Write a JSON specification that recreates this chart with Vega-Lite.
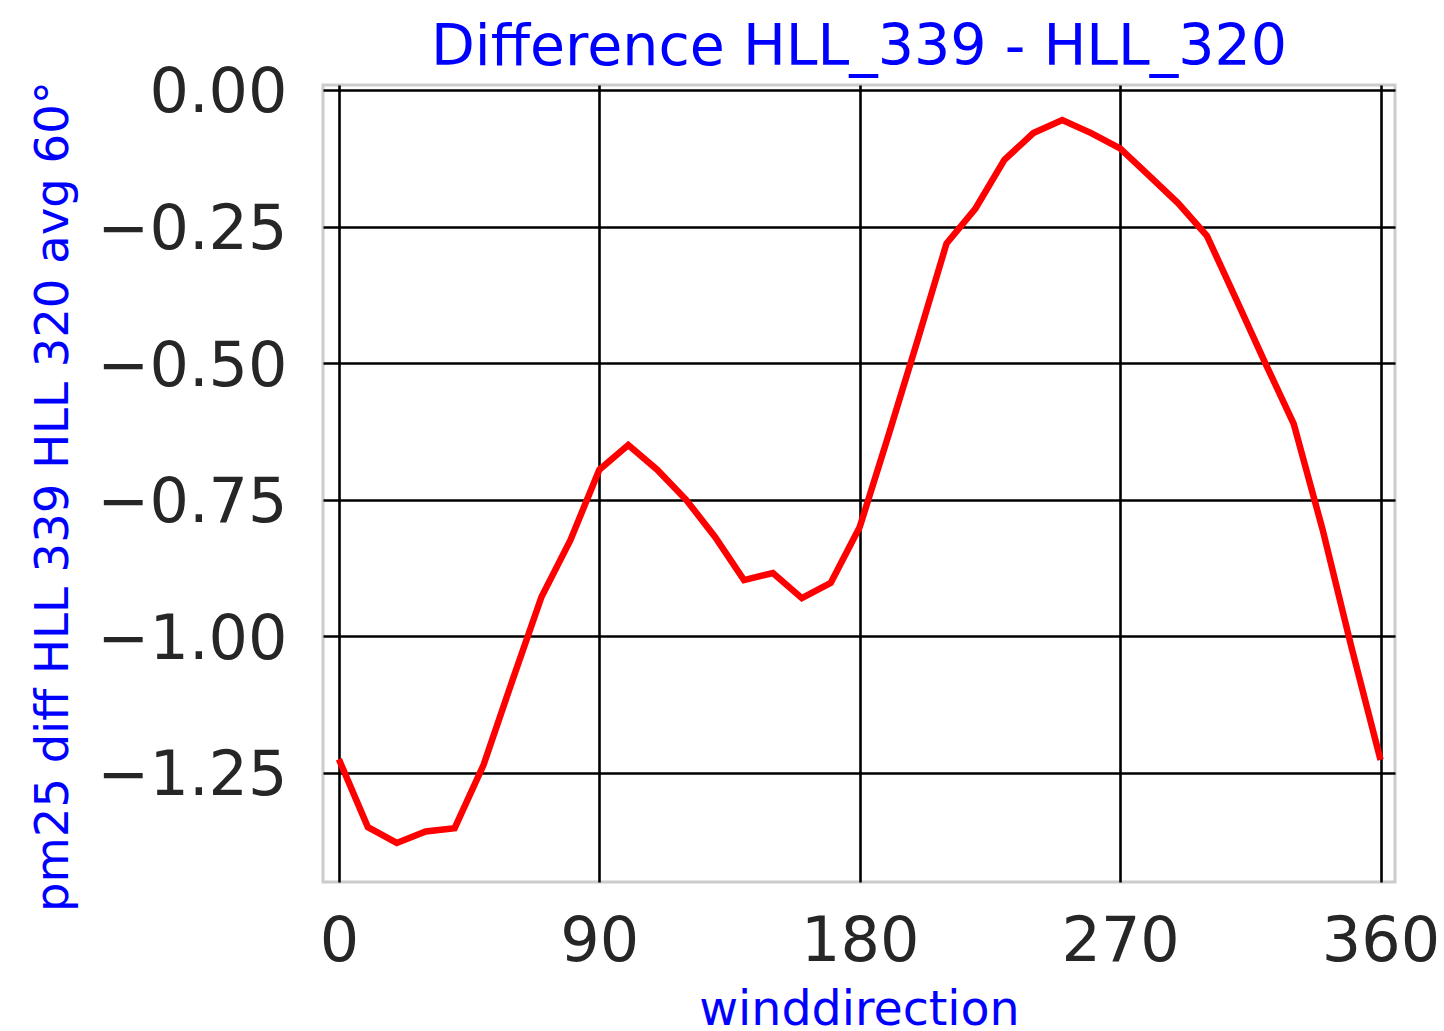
{
  "$schema": "https://vega.github.io/schema/vega-lite/v6.json",
  "autosize": {"type": "none"},
  "padding": {"left": 323, "top": 85, "right": 49, "bottom": 149},
  "width": 1072,
  "height": 797,
  "background": "white",
  "title": {
    "text": "Difference HLL_339 - HLL_320",
    "font": "DejaVu Sans",
    "fontSize": 57,
    "fontWeight": "normal",
    "color": "blue",
    "anchor": "middle",
    "frame": "group",
    "baseline": "alphabetic",
    "offset": -60
  },
  "config": {
    "view": {"stroke": "#cccccc", "strokeWidth": 3},
    "font": "DejaVu Sans"
  },
  "data": {
    "values": [
      {"winddirection": 0, "diff": -1.225},
      {"winddirection": 10, "diff": -1.349},
      {"winddirection": 20, "diff": -1.378},
      {"winddirection": 30, "diff": -1.357},
      {"winddirection": 40, "diff": -1.351},
      {"winddirection": 50, "diff": -1.235},
      {"winddirection": 60, "diff": -1.08},
      {"winddirection": 70, "diff": -0.928},
      {"winddirection": 80, "diff": -0.824},
      {"winddirection": 90, "diff": -0.695},
      {"winddirection": 100, "diff": -0.65},
      {"winddirection": 110, "diff": -0.695},
      {"winddirection": 120, "diff": -0.75},
      {"winddirection": 130, "diff": -0.818},
      {"winddirection": 140, "diff": -0.897},
      {"winddirection": 150, "diff": -0.884},
      {"winddirection": 160, "diff": -0.93},
      {"winddirection": 170, "diff": -0.902},
      {"winddirection": 180, "diff": -0.8},
      {"winddirection": 190, "diff": -0.631},
      {"winddirection": 200, "diff": -0.458},
      {"winddirection": 210, "diff": -0.281},
      {"winddirection": 220, "diff": -0.217},
      {"winddirection": 230, "diff": -0.128},
      {"winddirection": 240, "diff": -0.079},
      {"winddirection": 250, "diff": -0.055},
      {"winddirection": 260, "diff": -0.079},
      {"winddirection": 270, "diff": -0.107},
      {"winddirection": 280, "diff": -0.157},
      {"winddirection": 290, "diff": -0.207},
      {"winddirection": 300, "diff": -0.267},
      {"winddirection": 310, "diff": -0.382},
      {"winddirection": 320, "diff": -0.498},
      {"winddirection": 330, "diff": -0.611},
      {"winddirection": 340, "diff": -0.805},
      {"winddirection": 350, "diff": -1.021},
      {"winddirection": 360, "diff": -1.226}
    ]
  },
  "mark": {"type": "line", "color": "red", "strokeWidth": 6.5, "clip": true},
  "encoding": {
    "x": {
      "field": "winddirection",
      "type": "quantitative",
      "scale": {"domain": [-5.5, 365], "nice": false, "zero": false},
      "axis": {
        "title": "winddirection",
        "values": [0, 90, 180, 270, 360],
        "format": "d",
        "domain": false,
        "ticks": false,
        "tickSize": 0,
        "grid": true,
        "gridColor": "black",
        "gridWidth": 2.6,
        "gridOpacity": 1,
        "labelFont": "DejaVu Sans",
        "labelFontSize": 62,
        "labelColor": "#262626",
        "labelBaseline": "alphabetic",
        "labelPadding": 78,
        "labelFlush": false,
        "labelOverlap": false,
        "labelLimit": 0,
        "titleFont": "DejaVu Sans",
        "titleFontSize": 47.5,
        "titleFontWeight": "normal",
        "titleColor": "blue",
        "titleBaseline": "alphabetic",
        "titleAnchor": "middle",
        "titleX": 536,
        "titleY": 142
      }
    },
    "y": {
      "field": "diff",
      "type": "quantitative",
      "scale": {"domain": [-1.4495, 0.009], "nice": false, "zero": false},
      "axis": {
        "title": "pm25 diff HLL 339 HLL 320 avg 60°",
        "values": [-1.25, -1, -0.75, -0.5, -0.25, 0],
        "format": ".2f",
        "domain": false,
        "ticks": false,
        "tickSize": 0,
        "grid": true,
        "gridColor": "black",
        "gridWidth": 2.6,
        "gridOpacity": 1,
        "labelFont": "DejaVu Sans",
        "labelFontSize": 62,
        "labelColor": "#262626",
        "labelBaseline": "middle",
        "labelOffset": 3,
        "labelPadding": 36,
        "labelFlush": false,
        "labelOverlap": false,
        "labelLimit": 0,
        "titleFont": "DejaVu Sans",
        "titleFontSize": 46.5,
        "titleFontWeight": "normal",
        "titleColor": "blue",
        "titleAngle": -90,
        "titleBaseline": "alphabetic",
        "titleAlign": "center",
        "titleX": -256,
        "titleY": 411,
        "titleLimit": 0
      }
    }
  }
}
